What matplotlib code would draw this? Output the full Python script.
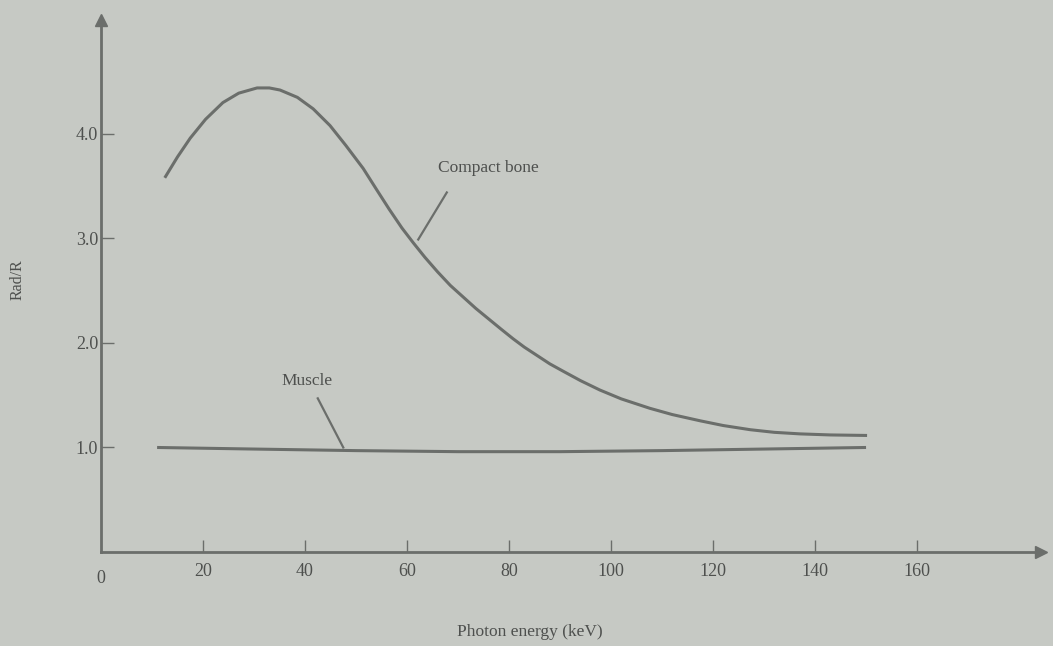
import matplotlib.pyplot as plt

# values
bone_energy = [12.5, 15, 17.5, 20.5, 23.9, 27, 30.6, 33, 35.1, 38.5, 41.6, 44.9, 48, 51.4,
               54, 56.5, 59, 61.2, 63.5, 66, 68.5, 71, 73.5, 76, 78.5, 80.8, 83, 85.5, 88, 90.6,
               94, 97.8, 102, 107.6, 112, 117.5, 122, 127.3, 132, 137.1, 143, 150.2]
bone_ratio = [3.58, 3.78, 3.96, 4.14, 4.30, 4.39, 4.44, 4.44, 4.42, 4.35, 4.24, 4.08, 3.89, 3.67,
              3.47, 3.28, 3.10, 2.96, 2.82, 2.68, 2.55, 2.44, 2.33, 2.23, 2.13, 2.04, 1.96, 1.88, 1.80, 1.73,
              1.64, 1.55, 1.465, 1.375, 1.315, 1.255, 1.21, 1.17, 1.145, 1.13, 1.12, 1.115]

muscle_energy = [11, 30, 50, 70, 90, 110, 130, 150]
muscle_ratio = [1.0, 0.985, 0.97, 0.96, 0.96, 0.97, 0.985, 1.0]

xticks = [0, 20, 40, 60, 80, 100, 120, 140, 160]
yticks = [1.0, 2.0, 3.0, 4.0]
ytick_labels = ['1.0', '2.0', '3.0', '4.0']

bg = '#c6c9c4'
ink = '#6b6e6b'
txt = '#4e504e'

plt.rcParams['font.family'] = ['Liberation Serif', 'DejaVu Serif']

fig = plt.figure(figsize=(10.53, 6.46), dpi=100, facecolor=bg)
ax = fig.add_axes([101 / 1053, 94 / 646, 940 / 1053, 532 / 646])
ax.set_facecolor(bg)
ax.set_xlim(0, 184.3)
ax.set_ylim(0, 5.09)

for s in ['top', 'right']:
    ax.spines[s].set_visible(False)
for s in ['left', 'bottom']:
    ax.spines[s].set_color(ink)
    ax.spines[s].set_linewidth(2)

# arrow heads on the axes
ax.plot(1, 0, '>', color=ink, markersize=9, transform=ax.transAxes, clip_on=False)
ax.plot(0, 1, '^', color=ink, markersize=9, transform=ax.transAxes, clip_on=False)

ax.plot(bone_energy, bone_ratio, color=ink, linewidth=2.2, solid_capstyle='butt',
        solid_joinstyle='round')
ax.plot(muscle_energy, muscle_ratio, color=ink, linewidth=2.2, solid_capstyle='butt')

ax.set_xticks(xticks[1:])
ax.set_xticklabels([str(t) for t in xticks[1:]])
ax.set_yticks(yticks)
ax.set_yticklabels(ytick_labels)
ax.tick_params(axis='both', direction='in', length=9, width=1.0, color=ink,
               labelcolor=txt, labelsize=13)
ax.tick_params(axis='x', pad=8)
ax.tick_params(axis='y', pad=2)
ax.text(0, -0.17, '0', ha='center', va='top', fontsize=13, color=txt)

# curve labels with leader lines
ax.text(75.9, 3.67, 'Compact bone', ha='center', va='center', fontsize=12.5, color=txt)
ax.plot([67.8, 62.2], [3.44, 2.99], color=ink, linewidth=1.6)
ax.text(40.4, 1.64, 'Muscle', ha='center', va='center', fontsize=12.5, color=txt)
ax.plot([42.5, 47.5], [1.47, 1.0], color=ink, linewidth=1.6)

fig.text(18 / 1053, 1 - 280 / 646, 'Rad/R', rotation=90, ha='center', va='center',
         fontsize=11.5, color=txt)
fig.text(530 / 1053, 1 - 632 / 646, 'Photon energy (keV)', ha='center', va='center',
         fontsize=12.5, color=txt)

fig.savefig('out.png', dpi=100, facecolor=bg)
